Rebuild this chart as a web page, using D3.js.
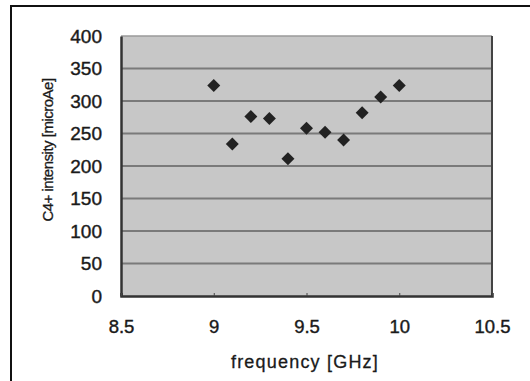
<!DOCTYPE html>
<html>
<head>
<meta charset="utf-8">
<script src="https://cdn.jsdelivr.net/npm/d3@7"></script>
<style>
  html, body { margin: 0; padding: 0; background: #fff; }
  svg { display: block; }
  text { font-family: "Liberation Sans", Arial, sans-serif; fill: #1a1a1a; }
</style>
</head>
<body>
<script>
const frequencies = [9.0, 9.1, 9.2, 9.3, 9.4, 9.5, 9.6, 9.7, 9.8, 9.9, 10.0];
const intensities = [324, 234, 276, 273, 211, 258, 252, 240, 282, 306, 324];
const xTicks = [8.5, 9, 9.5, 10, 10.5];
const yTicks = [0, 50, 100, 150, 200, 250, 300, 350, 400];
const xLabel = "frequency [GHz]";
const yLabel = "C4+ intensity [microAe]";

const W = 530, H = 381;
const svg = d3.select("body").append("svg").attr("width", W).attr("height", H);

// outer frame (extends beyond right/bottom edge)
svg.append("rect").attr("x", 11).attr("y", 6).attr("width", W + 10).attr("height", H + 10)
  .attr("fill", "#fff").attr("stroke", "#111").attr("stroke-width", 2);

const pL = 121, pR = 492, pT = 36, pB = 296;
const x = d3.scaleLinear().domain([8.5, 10.5]).range([pL, pR]);
const y = d3.scaleLinear().domain([0, 400]).range([pB, pT]);

// plot area
svg.append("rect").attr("x", pL).attr("y", pT).attr("width", pR - pL).attr("height", pB - pT)
  .attr("fill", "#c7c7c7");

// gridlines
svg.append("g").selectAll("line").data(yTicks.filter(d => d > 0 && d < 400)).join("line")
  .attr("x1", pL).attr("x2", pR).attr("y1", d => y(d)).attr("y2", d => y(d))
  .attr("stroke", "#7a7a7a").attr("stroke-width", 2);

// borders
svg.append("line").attr("x1", pL).attr("x2", pR).attr("y1", pT).attr("y2", pT)
  .attr("stroke", "#9a9a9a").attr("stroke-width", 1.5);
svg.append("line").attr("x1", pR).attr("x2", pR).attr("y1", pT).attr("y2", pB)
  .attr("stroke", "#444").attr("stroke-width", 2);

const tickFont = '"Liberation Sans", Arial, sans-serif';

// axes
const yAxis = svg.append("g").attr("transform", `translate(${pL},0)`)
  .call(d3.axisLeft(y).tickValues(yTicks).tickSize(0).tickPadding(19).tickFormat(d3.format("d")));
yAxis.select(".domain").attr("stroke", "#333").attr("stroke-width", 2.5);
yAxis.selectAll("text").style("font-size", "19px").style("font-family", tickFont)
  .attr("fill", "#1a1a1a").attr("stroke", "#1a1a1a").attr("stroke-width", 0.4);

const xAxis = svg.append("g").attr("transform", `translate(0,${pB})`)
  .call(d3.axisBottom(x).tickValues(xTicks).tickSize(-3).tickPadding(24).tickFormat(d => String(d)));
xAxis.select(".domain").attr("stroke", "#333").attr("stroke-width", 2.5);
xAxis.selectAll(".tick line").attr("stroke", "#444");
xAxis.selectAll("text").style("font-size", "18.5px").style("font-family", tickFont)
  .attr("fill", "#1a1a1a").attr("stroke", "#1a1a1a").attr("stroke-width", 0.4);

// markers
const diamond = d3.symbol().type(d3.symbolSquare).size(84);
svg.append("g").selectAll("path").data(frequencies.map((f, i) => [f, intensities[i]])).join("path")
  .attr("d", diamond)
  .attr("transform", d => `translate(${x(d[0])},${y(d[1])}) rotate(45)`)
  .attr("fill", "#222");

// axis titles
svg.append("text").attr("x", 305).attr("y", 368).attr("text-anchor", "middle")
  .style("font-size", "18px").style("letter-spacing", "1.2px")
  .attr("stroke", "#1a1a1a").attr("stroke-width", 0.3).text(xLabel);
svg.append("text").attr("transform", "translate(53,150) rotate(-90)").attr("text-anchor", "middle")
  .style("font-size", "15px").style("letter-spacing", "-0.5px")
  .attr("stroke", "#1a1a1a").attr("stroke-width", 0.3).text(yLabel);
</script>
</body>
</html>
